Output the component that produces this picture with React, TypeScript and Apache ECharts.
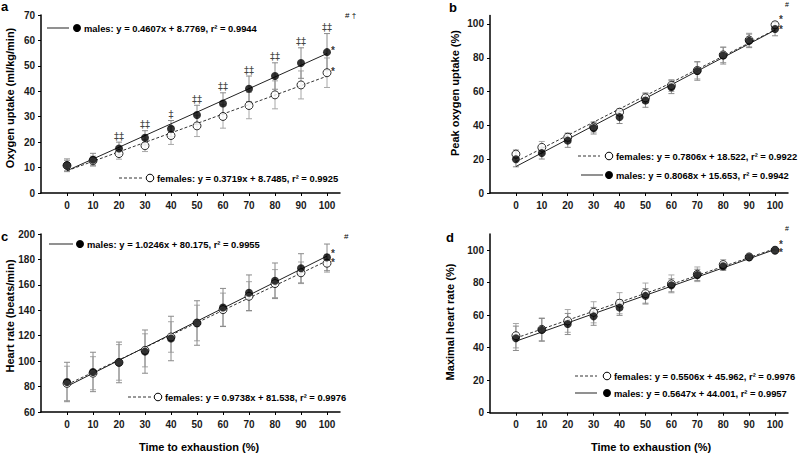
import React, { useEffect, useRef } from "react";
import * as echarts from "echarts";

// ---------- data ----------
const timePct = [0, 10, 20, 30, 40, 50, 60, 70, 80, 90, 100];
const xTicks = [0, 10, 20, 30, 40, 50, 60, 70, 80, 90, 100];

// a: oxygen uptake (ml/kg/min)
const vo2MaleMean = [10.9, 13.1, 17.5, 21.7, 25.3, 30.7, 35.2, 41.0, 46.0, 51.1, 55.4];
const vo2MaleSd = [2.5, 2.5, 2.5, 2.8, 3.2, 3.8, 4.2, 5.0, 5.2, 6.0, 7.3];
const vo2FemaleMean = [10.8, 12.7, 15.5, 18.6, 22.6, 26.4, 30.1, 34.4, 38.6, 42.5, 47.3];
const vo2FemaleSd = [2.0, 1.8, 2.2, 2.3, 3.5, 4.2, 4.6, 5.2, 5.5, 5.5, 5.8];
const vo2Sig = ["", "", "‡‡", "‡‡", "‡", "‡‡", "‡‡", "‡‡", "‡‡", "‡‡", "‡‡"];

// b: peak oxygen uptake (%)
const pvo2MaleMean = [20.0, 23.6, 31.0, 38.4, 44.9, 54.7, 62.6, 72.2, 81.3, 90.0, 97.0];
const pvo2MaleSd = [4.5, 3.5, 4.0, 3.5, 3.8, 4.0, 3.8, 5.5, 5.0, 4.0, 4.0];
const pvo2FemaleMean = [23.0, 27.0, 33.0, 39.0, 47.8, 56.3, 63.6, 72.5, 81.7, 90.5, 99.5];
const pvo2FemaleSd = [2.5, 3.5, 2.5, 3.0, 2.0, 3.0, 3.5, 5.0, 4.5, 4.0, 1.5];

// c: heart rate (beats/min)
const hrMaleMean = [83.6, 91.5, 99.0, 107.5, 117.8, 130.0, 142.2, 153.8, 163.2, 173.0, 181.6];
const hrMaleSd = [15.5, 15.5, 16.0, 17.0, 17.5, 17.5, 15.0, 14.0, 14.0, 11.5, 10.5];
const hrFemaleMean = [82.5, 90.5, 99.0, 108.5, 119.0, 130.0, 140.5, 151.0, 161.0, 169.5, 177.0];
const hrFemaleSd = [13.5, 13.0, 14.0, 13.0, 12.0, 14.0, 13.0, 11.5, 11.0, 8.5, 7.0];

// d: maximal heart rate (%)
const phrMaleMean = [45.8, 51.0, 54.6, 59.3, 64.7, 71.9, 78.4, 84.8, 90.1, 95.7, 100.0];
const phrMaleSd = [7.5, 7.0, 6.5, 5.5, 4.8, 4.5, 4.0, 3.5, 2.5, 1.0, 0.0];
const phrFemaleMean = [47.4, 51.3, 56.5, 61.8, 67.4, 73.3, 79.3, 85.2, 91.2, 95.9, 100.0];
const phrFemaleSd = [7.5, 7.0, 7.0, 6.5, 6.5, 6.5, 5.5, 4.5, 3.0, 1.0, 0.0];

// regression coefficients [slope, intercept] as printed
const fitMale = [[0.4607, 8.7769], [0.8068, 15.653], [1.0246, 80.175], [0.5647, 44.001]];
const fitFemale = [[0.3719, 8.7485], [0.7806, 18.522], [0.9738, 81.538], [0.5506, 45.962]];

const maleLegend = [
  "males: y = 0.4607x + 8.7769, r² = 0.9944",
  "males: y = 0.8068x + 15.653, r² = 0.9942",
  "males: y = 1.0246x + 80.175, r² = 0.9955",
  "males: y = 0.5647x + 44.001, r² = 0.9957",
];
const femaleLegend = [
  "females: y = 0.3719x + 8.7485, r² = 0.9925",
  "females: y = 0.7806x + 18.522, r² = 0.9922",
  "females: y = 0.9738x + 81.538, r² = 0.9976",
  "females: y = 0.5506x + 45.962, r² = 0.9976",
];
const yNames = ["Oxygen uptake (ml/kg/min)", "Peak oxygen uptake (%)", "Heart rate (beats/min)", "Maximal heart rate (%)"];
const panelLetters = ["a", "b", "c", "d"];
const yMin = [0, 0, 60, 0];
const yMax = [70, 105, 200, 110];
const yTop = [70, 100, 200, 100];
const yStep = [10, 20, 20, 20];
const xName = "Time to exhaustion (%)";

const FONT = "'Liberation Sans', Arial, sans-serif";

export default function App() {
  const ref = useRef<HTMLDivElement>(null);
  useEffect(() => {
    if (!ref.current) return;
    const chart = echarts.init(ref.current, null, { renderer: "svg" });

    const grids = [
      { left: 41, top: 15, width: 299, height: 178 },
      { left: 490, top: 15.5, width: 298, height: 177.5 },
      { left: 41, top: 234, width: 299, height: 178 },
      { left: 490, top: 234, width: 298, height: 178.7 },
    ];

    const maleMeans = [vo2MaleMean, pvo2MaleMean, hrMaleMean, phrMaleMean];
    const maleSds = [vo2MaleSd, pvo2MaleSd, hrMaleSd, phrMaleSd];
    const femMeans = [vo2FemaleMean, pvo2FemaleMean, hrFemaleMean, phrFemaleMean];
    const femSds = [vo2FemaleSd, pvo2FemaleSd, hrFemaleSd, phrFemaleSd];

    const errBar = (color: string) => (params: any, api: any) => {
      const x = api.value(0);
      const m = api.value(1);
      const s = api.value(2);
      const top = api.coord([x, m + s]);
      const bot = api.coord([x, m - s]);
      const w = 3;
      const st = { stroke: color, lineWidth: 1 };
      return {
        type: "group",
        children: [
          { type: "line", shape: { x1: top[0], y1: top[1], x2: bot[0], y2: bot[1] }, style: st },
          { type: "line", shape: { x1: top[0] - w, y1: top[1], x2: top[0] + w, y2: top[1] }, style: st },
          { type: "line", shape: { x1: bot[0] - w, y1: bot[1], x2: bot[0] + w, y2: bot[1] }, style: st },
        ],
      };
    };

    const xAxes = grids.map((_, i) => ({
      type: "value",
      gridIndex: i,
      min: -10,
      max: 105,
      interval: 10,
      axisLine: { onZero: false, lineStyle: { color: "#000", width: 1.5 } },
      axisTick: { length: 3, lineStyle: { color: "#000" }, customValues: xTicks },
      axisLabel: {
        customValues: xTicks,
        color: "#1a1a1a",
        fontWeight: "bold",
        fontSize: 10,
        fontFamily: FONT,
        margin: 7,
      },
      splitLine: { show: false },
    }));

    const yAxes = grids.map((_, i) => {
      const vals: number[] = [];
      for (let v = yMin[i]; v <= yTop[i]; v += yStep[i]) vals.push(v);
      return {
        type: "value",
        gridIndex: i,
        min: yMin[i],
        max: yMax[i],
        interval: yStep[i],
        axisLine: { show: true, onZero: false, lineStyle: { color: "#000", width: 1.5 } },
        axisTick: { show: true, length: 3, lineStyle: { color: "#000" }, customValues: vals },
        axisLabel: {
          customValues: vals,
          color: "#1a1a1a",
          fontWeight: "bold",
          fontSize: 10,
          fontFamily: FONT,
          margin: 6,
        },
        splitLine: { show: false },
      };
    });

    const series: any[] = [];
    const starOffsetF = [[0, -1], [0, -5], [0, -1], [0, -6]];
    const starOffsetM = [[0, -2], [0, 0], [0, -4], [0, 2]];
    for (let i = 0; i < 4; i++) {
      const base = { xAxisIndex: i, yAxisIndex: i, silent: true };
      series.push({
        ...base,
        type: "custom",
        renderItem: errBar("#a8a8a8"),
        data: timePct.map((x, k) => [x, femMeans[i][k], femSds[i][k]]),
        z: 1,
      });
      series.push({
        ...base,
        type: "custom",
        renderItem: errBar("#8a8a8a"),
        data: timePct.map((x, k) => [x, maleMeans[i][k], maleSds[i][k]]),
        z: 1,
      });
      const fx0 = timePct[0];
      const fx1 = timePct[timePct.length - 1];
      series.push({
        ...base,
        type: "line",
        data: [
          [fx0, fitFemale[i][0] * fx0 + fitFemale[i][1]],
          [fx1, fitFemale[i][0] * fx1 + fitFemale[i][1]],
        ],
        symbol: "none",
        lineStyle: { color: "#333", width: 1, type: [3, 2] },
        z: 2,
      });
      series.push({
        ...base,
        type: "line",
        data: [
          [fx0, fitMale[i][0] * fx0 + fitMale[i][1]],
          [fx1, fitMale[i][0] * fx1 + fitMale[i][1]],
        ],
        symbol: "none",
        lineStyle: { color: "#222", width: 1 },
        z: 2,
      });
      series.push({
        ...base,
        type: "scatter",
        data: timePct.map((x, k) => [x, femMeans[i][k]]),
        symbol: "circle",
        symbolSize: 8,
        itemStyle: { color: "#fff", borderColor: "#000", borderWidth: 1 },
        z: 3,
      });
      series.push({
        ...base,
        type: "scatter",
        data: timePct.map((x, k) => [x, maleMeans[i][k]]),
        symbol: "circle",
        symbolSize: 8,
        itemStyle: { color: "#000" },
        z: 4,
      });
      // asterisks at 100 %
      const last = timePct.length - 1;
      series.push({
        ...base,
        type: "scatter",
        data: [[timePct[last], femMeans[i][last]]],
        symbolSize: 0,
        itemStyle: { color: "#000" },
        label: {
          show: true, position: "right", distance: 4, offset: starOffsetF[i], formatter: "*",
          color: "#000", fontSize: 10, fontWeight: "bold", fontFamily: FONT,
        },
        z: 5,
      });
      series.push({
        ...base,
        type: "scatter",
        data: [[timePct[last], maleMeans[i][last]]],
        symbolSize: 0,
        itemStyle: { color: "#000" },
        label: {
          show: true, position: "right", distance: 4, offset: starOffsetM[i], formatter: "*",
          color: "#000", fontSize: 10, fontWeight: "bold", fontFamily: FONT,
        },
        z: 5,
      });
    }
    // significance daggers in panel a
    series.push({
      type: "scatter",
      xAxisIndex: 0,
      yAxisIndex: 0,
      silent: true,
      data: timePct.map((x, k) => [x, vo2MaleMean[k] + vo2MaleSd[k]]),
      symbolSize: 0,
      itemStyle: { color: "#000" },
      label: {
        show: true,
        position: "top",
        distance: 1,
        formatter: (p: any) => vo2Sig[p.dataIndex],
        color: "#111",
        fontSize: 10,
        fontFamily: "'DejaVu Sans', sans-serif",
      },
      z: 5,
    });

    // graphics: legends, names, letters, notes
    const g: any[] = [];
    const txt = (x: number, y: number, text: string, size: number, align = "left", rot = 0, bold = true) => ({
      type: "text",
      x,
      y,
      rotation: rot,
      style: {
        text,
        fill: "#000",
        font: `${bold ? "bold " : ""}${size}px ${FONT}`,
        align,
        verticalAlign: "middle",
      },
      silent: true,
    });
    const legendEntry = (x1: number, x2: number, cx: number, tx: number, y: number, text: string, male: boolean) => {
      const children: any[] = [];
      if (male) {
        children.push({
          type: "rect",
          shape: { x: 0, y: -0.5, width: x2 - x1, height: 1 },
          style: { fill: "#222" },
        });
      } else {
        children.push({
          type: "polyline",
          shape: { points: [[0, 0], [x2 - x1, 0]] },
          style: { stroke: "#333", lineWidth: 1, lineDash: [3, 2], fill: null },
        });
      }
      children.push({
        type: "circle",
        shape: { cx: cx - x1, cy: 0, r: male ? 4 : 3.8 },
        style: male ? { fill: "#000" } : { fill: "#fff", stroke: "#000", lineWidth: 1 },
      });
      children.push({
        type: "text",
        x: tx - x1,
        y: 0,
        style: { text, fill: "#000", font: `bold 9.4px ${FONT}`, align: "left", verticalAlign: "middle" },
      });
      g.push({ type: "group", x: x1, y, silent: true, children });
    };
    legendEntry(47, 69, 77, 84, 28, maleLegend[0], true);
    legendEntry(119, 143, 150, 157, 178, femaleLegend[0], false);
    legendEntry(578, 600, 609, 616, 156, femaleLegend[1], false);
    legendEntry(581, 603, 609, 616, 175, maleLegend[1], true);
    legendEntry(49, 73, 80, 87, 244, maleLegend[2], true);
    legendEntry(128, 151, 158, 165, 397, femaleLegend[2], false);
    legendEntry(575, 597, 607, 614, 376, femaleLegend[3], false);
    legendEntry(575, 597, 607, 614, 393, maleLegend[3], true);

    g.push(txt(10, 98, yNames[0], 11, "center", Math.PI / 2));
    g.push(txt(455, 93, yNames[1], 11, "center", Math.PI / 2));
    g.push(txt(10, 316, yNames[2], 11, "center", Math.PI / 2));
    g.push(txt(450, 322, yNames[3], 11, "center", Math.PI / 2));
    g.push(txt(199, 447, xName, 11, "center"));
    g.push(txt(651, 447, xName, 11, "center"));

    g.push(txt(1, 6, panelLetters[0], 13));
    g.push(txt(449, 7, panelLetters[1], 13));
    g.push(txt(1, 236, panelLetters[2], 13));
    g.push(txt(446, 237, panelLetters[3], 13));

    g.push(txt(345, 15, "# †", 8, "left", 0, false));
    g.push(txt(785, 4, "#", 7, "left", 0, false));
    g.push(txt(344, 236, "#", 8, "left", 0, false));
    g.push(txt(785, 228, "#", 7, "left", 0, false));

    chart.setOption({
      animation: false,
      backgroundColor: "#fff",
      grid: grids,
      xAxis: xAxes,
      yAxis: yAxes,
      series,
      graphic: g,
    });
    return () => chart.dispose();
  }, []);
  return <div ref={ref} style={{ width: 798, height: 455, position: "absolute", left: 0, top: 0 }} />;
}
